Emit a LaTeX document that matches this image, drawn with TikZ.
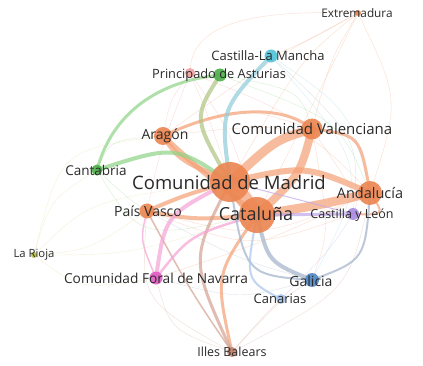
\documentclass[tikz,border=0pt]{standalone}
\usepackage{fontspec}
\setmainfont{Open Sans}
\definecolor{orn}{HTML}{EC8550}
\definecolor{orne}{HTML}{F5A075}
\definecolor{grn}{HTML}{4DAF4A}
\definecolor{grne}{HTML}{8ED486}
\definecolor{cya}{HTML}{4FC3D9}
\definecolor{cyae}{HTML}{8DD3DD}
\definecolor{pnk}{HTML}{E25CC4}
\definecolor{pnke}{HTML}{F5A3D6}
\definecolor{blu}{HTML}{4C86C6}
\definecolor{blue2}{HTML}{A1B3CA}
\definecolor{lbl}{HTML}{A9C6EC}
\definecolor{pur}{HTML}{A98AE3}
\definecolor{pure}{HTML}{BFA8E8}
\definecolor{brn}{HTML}{C28470}
\definecolor{brne}{HTML}{D3A090}
\definecolor{yel}{HTML}{B7BE3C}
\definecolor{yele}{HTML}{E0D890}
\definecolor{rse}{HTML}{F3A0A0}
\definecolor{txt}{HTML}{2A2A2A}
\newcommand{\fsz}[1]{\fontsize{#1}{#1}\selectfont}
\tikzset{
  edge/.style={draw opacity=0.7, line cap=round},
  faint/.style={draw opacity=0.35, line width=0.4pt},
  nd/.style={circle, inner sep=0pt, fill opacity=0.9},
  lab/.style={text=txt, inner sep=0pt, font=\fsz{13}},
}
\begin{document}
\begin{tikzpicture}[x=1pt,y=-1pt]
\useasboundingbox (0,0) rectangle (423,366);
\fill[white] (0,0) rectangle (423,366);
% node centres
\coordinate (mad) at (230,182);
\coordinate (cat) at (257,215);
\coordinate (val) at (312,129);
\coordinate (and) at (370,193);
\coordinate (cyl) at (353,214);
\coordinate (ara) at (163,136);
\coordinate (can) at (97,170);
\coordinate (pv) at (147,211);
\coordinate (rio) at (34,255);
\coordinate (nav) at (156,278);
\coordinate (gal) at (312,280);
\coordinate (cnr) at (281,299);
\coordinate (ib) at (232,352);
\coordinate (ast) at (220,75);
\coordinate (astp) at (190,73);
\coordinate (clm) at (271,56);
\coordinate (ext) at (358,13);
% faint edges
\draw[faint,orne] (ext) .. controls (260,10) and (190,20) .. (astp);
\draw[faint,orne] (ext) .. controls (300,60) .. (mad);
\draw[faint,orne] (ext) .. controls (320,90) .. (cat);
\draw[faint,orne] (ext) .. controls (330,60) .. (val);
\draw[faint,orne] (ext) .. controls (400,100) .. (and);
\draw[faint,orne] (ext) .. controls (310,40) .. (clm);
\draw[faint,orne] (ext) .. controls (270,60) .. (ara);
\draw[faint,yele] (rio) .. controls (50,200) .. (can);
\draw[faint,yele] (rio) .. controls (90,250) .. (pv);
\draw[faint,yele] (rio) .. controls (130,255) .. (cat);
\draw[faint,yele] (rio) .. controls (90,200) .. (mad);
\draw[faint,yele] (rio) .. controls (80,290) .. (nav);
\draw[faint,yele] (rio) .. controls (60,150) .. (ara);
\draw[faint,brne] (ib) .. controls (280,300) .. (gal);
\draw[faint,brne] (ib) .. controls (260,320) .. (cnr);
\draw[faint,brne] (ib) .. controls (170,330) .. (nav);
\draw[faint,brne] (ib) .. controls (350,290) .. (and);
\draw[faint,brne] (ib) .. controls (140,300) .. (pv);
\draw[faint,rse] (astp) .. controls (230,130) .. (cat);
\draw[faint,rse] (astp) .. controls (210,120) .. (mad);
\draw[faint,rse] (astp) .. controls (260,100) .. (val);
\draw[faint,rse] (astp) .. controls (170,100) .. (ara);
\draw[faint,rse] (astp) .. controls (160,150) .. (pv);
\draw[faint,grne] (ast) .. controls (300,90) .. (val);
\draw[faint,grne] (ast) .. controls (340,120) .. (and);
\draw[faint,grne] (can) .. controls (130,200) .. (pv);
\draw[faint,grne] (can) .. controls (140,240) .. (cat);
\draw[faint,grne] (can) .. controls (110,140) .. (ara);
\draw[faint,cyae] (clm) .. controls (350,110) .. (and);
\draw[faint,blue2] (clm) .. controls (360,140) .. (cyl);
\draw[faint,cyae] (clm) .. controls (370,170) .. (gal);
\draw[faint,orne] (ara) .. controls (240,105) .. (val);
\draw[faint,orne] (ara) .. controls (300,120) .. (and);
\draw[faint,orne] (pv) .. controls (260,240) .. (and);
\draw[faint,orne] (pv) .. controls (250,250) .. (cyl);
\draw[faint,orne] (nav) .. controls (270,240) .. (and);
\draw[faint,blue2] (nav) .. controls (240,300) .. (gal);
\draw[faint,blue2] (pv) .. controls (240,260) .. (gal);
\draw[faint,pure] (cyl) .. controls (330,250) .. (cnr);
\draw[faint,orne] (val) .. controls (360,200) .. (cyl);
\draw[faint,orne] (val) .. controls (330,230) .. (gal);
% main edges
\draw[edge,orne,line width=3] (ara) .. controls (240,100) and (290,110) .. (val);
\draw[edge,orne,line width=3] (val) .. controls (360,135) .. (and);
\draw[edge,orne,line width=2] (and) .. controls (385,215) .. (cyl);
\draw[edge,orne,line width=5] (mad) .. controls (180,160) .. (ara);
\draw[edge,orne,line width=5] (cat) .. controls (200,170) .. (ara);
\draw[edge,orne,line width=4] (mad) .. controls (185,195) .. (pv);
\draw[edge,orne,line width=4] (cat) .. controls (195,220) .. (pv);
\draw[edge,orne,line width=9] (mad) .. controls (275,140) .. (val);
\draw[edge,orne,line width=8] (cat) .. controls (300,175) .. (val);
\draw[edge,orne,line width=6] (mad) .. controls (305,165) .. (and);
\draw[edge,orne,line width=9] (cat) .. controls (320,205) .. (and);
\draw[edge,orne,line width=16] (mad) -- (cat);
\draw[edge,orne,line width=3] (cat) .. controls (215,275) .. (ib);
\draw[edge,brne,line width=3] (mad) .. controls (190,260) .. (ib);
\draw[edge,brne,line width=1.5] (pv) .. controls (190,290) .. (ib);
\draw[edge,grne,line width=3] (can) .. controls (110,120) and (150,82) .. (ast);
\draw[edge,grne,line width=4] (can) .. controls (175,145) .. (mad);
\draw[edge,grne!70!orne,line width=4] (ast) .. controls (193,118) .. (mad);
\draw[edge,cyae!80!blue2,line width=4] (clm) .. controls (220,110) .. (mad);
\draw[edge,pnke,line width=4] (nav) .. controls (165,215) .. (mad);
\draw[edge,pnke,line width=2.5] (nav) .. controls (190,235) .. (cat);
\draw[edge,pnke,line width=1.5] (nav) .. controls (140,240) .. (pv);
\draw[edge,blue2,line width=4] (cat) .. controls (268,262) .. (gal);
\draw[edge,blue2,line width=2] (mad) .. controls (245,275) .. (gal);
\draw[edge,lbl,line width=2] (cat) .. controls (245,280) .. (cnr);
\draw[edge,blue2,line width=2] (and) .. controls (365,260) .. (gal);
\draw[edge,pure,line width=3] (cat) -- (cyl);
\draw[edge,pure,line width=1] (mad) .. controls (300,200) .. (cyl);
% nodes
\node[nd,fill=orn,minimum size=40] (madn) at (mad) {};
\node[nd,fill=orn,minimum size=36] (catn) at (cat) {};
\node[nd,fill=orn,minimum size=21] (valn) at (val) {};
\node[nd,fill=orn,minimum size=24] (andn) at (and) {};
\node[nd,fill=pur,minimum size=12] (cyln) at (cyl) {};
\node[nd,fill=orn,minimum size=18] (aran) at (ara) {};
\node[nd,fill=grn,minimum size=11] (cann) at (can) {};
\node[nd,fill=orn,minimum size=15] (pvn) at (pv) {};
\node[nd,fill=yel,minimum size=6] (rion) at (rio) {};
\node[nd,fill=pnk,minimum size=13] (navn) at (nav) {};
\node[nd,fill=blu,minimum size=14] (galn) at (gal) {};
\node[nd,fill=lbl,minimum size=10] (cnrn) at (cnr) {};
\node[nd,fill=brn,minimum size=10] (ibn) at (ib) {};
\node[nd,fill=rse,minimum size=10] (astpn) at (astp) {};
\node[nd,fill=grn,minimum size=13] (astn) at (ast) {};
\node[nd,fill=cya,minimum size=13] (clmn) at (clm) {};
\node[nd,fill=orn,minimum size=6] (extn) at (ext) {};
% labels
\node[lab,font=\fsz{18.5}] (madl) at (229,183) {Comunidad de Madrid};
\node[lab,font=\fsz{18}] (catl) at (256,214) {Cataluña};
\node[lab,font=\fsz{15}] (vall) at (312,129) {Comunidad Valenciana};
\node[lab,font=\fsz{14.5}] (andl) at (370,193) {Andalucía};
\node[lab,font=\fsz{12.5}] (cyll) at (352,215) {Castilla y León};
\node[lab,font=\fsz{14}] (aral) at (165,136) {Aragón};
\node[lab,font=\fsz{13.5}] (canl) at (96,170) {Cantabria};
\node[lab,font=\fsz{14}] (pvl) at (148,211) {País Vasco};
\node[lab,font=\fsz{11.3}] (riol) at (34,255) {La Rioja};
\node[lab,font=\fsz{13.7}] (navl) at (156,278) {Comunidad Foral de Navarra};
\node[lab,font=\fsz{14}] (gall) at (311,281) {Galicia};
\node[lab,font=\fsz{13}] (cnrl) at (280,299) {Canarias};
\node[lab,font=\fsz{12.5}] (ibl) at (232,352) {Illes Balears};
\node[lab,font=\fsz{12.8}] (astl) at (219,75) {Principado de Asturias};
\node[lab,font=\fsz{13}] (clml) at (268,56) {Castilla-La Mancha};
\node[lab,font=\fsz{11.8}] (extl) at (357,13) {Extremadura};
\end{tikzpicture}
\end{document}
